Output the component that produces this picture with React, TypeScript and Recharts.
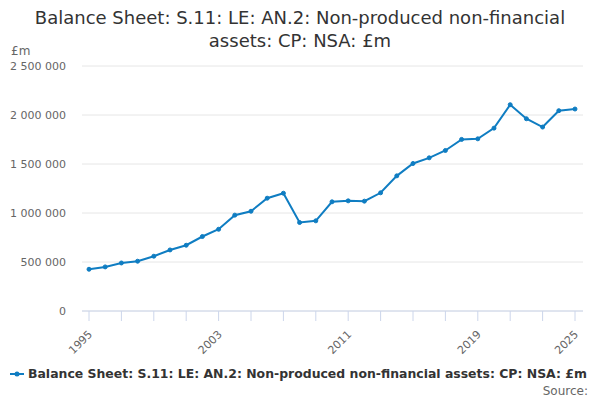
import React from 'react';
import { LineChart, Line, XAxis, YAxis, CartesianGrid } from 'recharts';

const years = [1995,1996,1997,1998,1999,2000,2001,2002,2003,2004,2005,2006,2007,2008,2009,2010,2011,2012,2013,2014,2015,2016,2017,2018,2019,2020,2021,2022,2023,2024,2025];
const values = [426000,450000,490000,508000,559000,623000,671000,760000,834000,978000,1018000,1151000,1202000,903000,920000,1114000,1124000,1121000,1206000,1379000,1505000,1563000,1638000,1751000,1757000,1866000,2105000,1962000,1877000,2044000,2061000];
const xTicks = [1995,1997,1999,2001,2003,2005,2007,2009,2011,2013,2015,2017,2019,2021,2023,2025];
const xLabels = [1995,2003,2011,2019,2025];
const yTicks = [0,500000,1000000,1500000,2000000,2500000];
const seriesName = 'Balance Sheet: S.11: LE: AN.2: Non-produced non-financial assets: CP: NSA: £m';

const data = years.map((y, i) => ({ year: y, value: values[i] }));
const COLOR = '#0f7dc2';
const FONT = '"DejaVu Sans", Verdana, sans-serif';

const fmt = (v: number) => String(v).replace(/\B(?=(\d{3})+(?!\d))/g, ' ');

const XTick = (props: any) => {
  const { x, y, payload } = props;
  if (!xLabels.includes(payload.value)) return null;
  return (
    <text x={x + 4} y={y + 12} textAnchor="end" transform={`rotate(-45, ${x + 4}, ${y + 12})`} fontSize={11} fill="#666" fontFamily={FONT}>
      {payload.value}
    </text>
  );
};

export default function App() {
  return (
    <div style={{ position: 'absolute', left: 0, top: 0, width: 600, height: 400, background: '#fff', fontFamily: FONT }}>
      <div style={{ position: 'absolute', left: 0, top: 6, width: 600, textAlign: 'center', fontSize: 18, lineHeight: '23px', color: '#333' }}>
        Balance Sheet: S.11: LE: AN.2: Non-produced non-financial<br />assets: CP: NSA: £m
      </div>
      <div style={{ position: 'absolute', left: 11, top: 44, fontSize: 12, color: '#666' }}>£m</div>
      <LineChart width={600} height={400} data={data} margin={{ top: 66, right: 17, bottom: 59, left: 0 }}>
        <CartesianGrid vertical={false} stroke="#e6e6e6" />
        <XAxis
          dataKey="year"
          type="number"
          domain={[1995, 2025]}
          ticks={xTicks}
          interval={0}
          padding={{ left: 7, right: 8 }}
          height={30}
          stroke="#ccd6eb"
          tickSize={10}
          tick={<XTick />}
        />
        <YAxis
          width={82}
          domain={[0, 2500000]}
          ticks={yTicks}
          axisLine={false}
          tickLine={false}
          tickSize={8}
          tickMargin={8}
          tickFormatter={fmt}
          tick={{ fontSize: 11, fill: '#666', fontFamily: FONT }}
        />
        <Line
          type="linear"
          dataKey="value"
          name={seriesName}
          stroke={COLOR}
          strokeWidth={2}
          dot={{ r: 2, fill: COLOR, stroke: COLOR, strokeWidth: 1 }}
          isAnimationActive={false}
        />
      </LineChart>
      <div style={{ position: 'absolute', left: 10, top: 366, display: 'flex', alignItems: 'center', fontSize: 12.45, fontWeight: 'bold', color: '#333', whiteSpace: 'nowrap' }}>
        <svg width={14} height={10} style={{ marginRight: 4 }}>
          <line x1={0} y1={5} x2={14} y2={5} stroke={COLOR} strokeWidth={2} />
          <circle cx={7} cy={5} r={2.5} fill={COLOR} />
        </svg>
        {seriesName}
      </div>
      <div style={{ position: 'absolute', right: 12, top: 384, fontSize: 12, color: '#666' }}>Source:</div>
    </div>
  );
}
